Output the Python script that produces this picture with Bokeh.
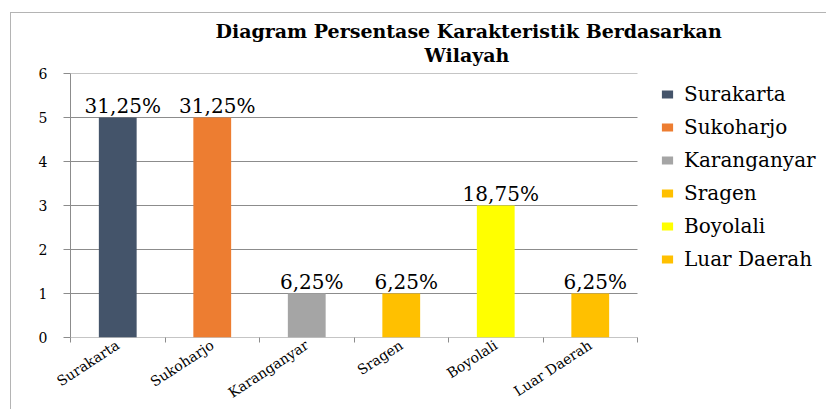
from bokeh.plotting import figure
from bokeh.models import Range1d, FixedTicker, Legend, LegendItem, Title, ColumnDataSource
from bokeh.core.properties import value
from bokeh.embed import file_html
from bokeh.resources import INLINE

# ---- data ----
wilayah = ["Surakarta", "Sukoharjo", "Karanganyar", "Sragen", "Boyolali", "Luar Daerah"]
jumlah = [5, 5, 1, 1, 3, 1]
persen = ["31,25%", "31,25%", "6,25%", "6,25%", "18,75%", "6,25%"]
warna = ["#44546A", "#ED7D31", "#A5A5A5", "#FFC000", "#FFFF00", "#FFC000"]
y_ticks = [0, 1, 2, 3, 4, 5, 6]
judul = ["Diagram Persentase Karakteristik  Berdasarkan", "Wilayah"]

FONT = "DejaVu Serif"
GRAY = "#8c8c8c"

n = len(wilayah)
pos = [i + 0.5 for i in range(n)]
src = ColumnDataSource(dict(x=pos, y=jumlah, wilayah=wilayah, persen=persen, warna=warna))

OX, OY = 10, 12                 # outer chart-area border position on the page
W, H = 827 - OX - 1, 410 - OY - 1
ML, MR, MT = 59, 5, 60
MB = H - MT - 264
unit_px = 94.5                  # width of one category on screen
frame_w = W - ML - MR
x_end = frame_w / unit_px       # extra room on the right holds the legend

p = figure(width=W, height=H, output_backend="svg", toolbar_location=None,
           x_range=Range1d(0, x_end), y_range=Range1d(y_ticks[0], y_ticks[-1]),
           min_border_left=ML, min_border_right=MR, min_border_top=MT, min_border_bottom=MB)
p.styles = {"margin-left": f"{OX}px", "margin-top": f"{OY}px",
            "border-left": "1px solid #b4b4b4", "border-top": "1px solid #b4b4b4"}
p.outline_line_color = None
p.background_fill_color = "white"
p.border_fill_color = "white"
p.xgrid.visible = False
p.ygrid.visible = False

# horizontal gridlines (including the category axis line at 0) across the bar area only
p.segment(x0=[0] * len(y_ticks), x1=[n] * len(y_ticks), y0=y_ticks, y1=y_ticks,
          line_color=GRAY, line_width=1)

r = p.vbar(x="x", top="y", width=0.4, fill_color="warna", line_color=None, source=src)
p.text(x="x", y="y", text="persen", text_align="center", text_baseline="bottom",
       x_offset=5, text_font=value(FONT), text_font_size="20px", text_color="black",
       source=src)

# x axis: category boundary ticks (minor), names at centres
p.xaxis.ticker = FixedTicker(ticks=pos, minor_ticks=list(range(n + 1)))
p.xaxis.major_label_overrides = {x: w for x, w in zip(pos, wilayah)}
p.xaxis.axis_line_color = None
p.xaxis.major_tick_line_color = None
p.xaxis.major_tick_out = 0
p.xaxis.major_tick_in = 0
p.xaxis.minor_tick_out = 5
p.xaxis.minor_tick_in = 0
p.xaxis.minor_tick_line_color = GRAY
p.xaxis.major_label_orientation = 0.58
p.xaxis.major_label_standoff = 1
p.xaxis.major_label_text_font = FONT
p.xaxis.major_label_text_font_size = "14px"
p.xaxis.major_label_text_color = "black"

yt = FixedTicker(ticks=y_ticks, minor_ticks=[])
p.yaxis.ticker = yt
p.yaxis.major_tick_out = 7
p.yaxis.major_tick_in = 0
p.yaxis.minor_tick_line_color = None
p.yaxis.major_tick_line_color = GRAY
p.yaxis.axis_line_color = GRAY
p.yaxis.major_label_standoff = 16
p.yaxis.major_label_text_font = FONT
p.yaxis.major_label_text_font_size = "14px"
p.yaxis.major_label_text_color = "black"

# legend (inside the frame, right of the bars)
items = [LegendItem(label=w, renderers=[r], index=i) for i, w in enumerate(wilayah)]
leg = Legend(items=items, location=(590, 66), padding=0, margin=0,
             border_line_color=None, background_fill_alpha=0,
             glyph_width=14, glyph_height=10, label_standoff=10,
             label_height=21, spacing=9,
             label_text_font=FONT, label_text_font_size="20px", label_text_color="black")
p.add_layout(leg, "center")

# title (two lines) with a small spacer between it and the frame
p.add_layout(Title(text=" ", text_font_size="6px", standoff=0), "above")
p.add_layout(Title(text=judul[1], align="left", offset=354, text_font=FONT,
                   text_font_style="bold", text_font_size="19px", text_color="black",
                   standoff=0), "above")
p.add_layout(Title(text=judul[0], align="left", offset=145, text_font=FONT,
                   text_font_style="bold", text_font_size="19px", text_color="black",
                   standoff=0), "above")

open("out.html", "w").write(file_html(p, INLINE))
